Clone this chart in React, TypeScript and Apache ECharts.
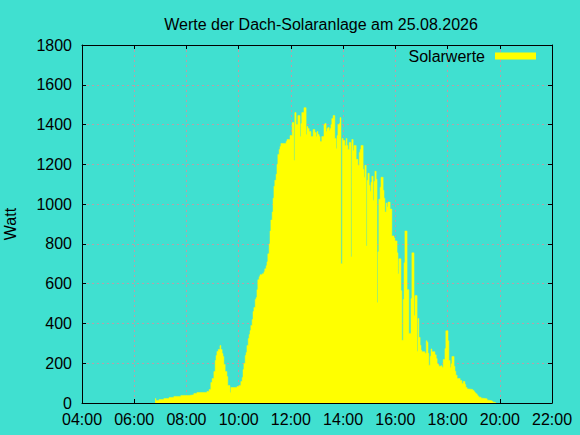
import React, { useEffect, useRef } from "react";
import * as echarts from "echarts";

const TITLE = "Werte der Dach-Solaranlage am 25.08.2026";
const SERIES_NAME = "Solarwerte";
const Y_NAME = "Watt";

const times: string[] = [
  "06:48","06:50","06:57","07:08","07:20","07:31","07:47","08:06","08:17","08:24",
  "08:47","08:52","08:56","08:59","09:03","09:06","09:08","09:10","09:13","09:17",
  "09:19","09:22","09:24","09:26","09:29","09:33","09:35","09:40","09:42","09:56",
  "10:01","10:05","10:08","10:10","10:12","10:15","10:17","10:19","10:22","10:24",
  "10:26","10:28","10:31","10:33","10:35","10:38","10:40","10:42","10:44","10:47",
  "10:49","10:54","10:58","11:00","11:03","11:05","11:07","11:10","11:12","11:14",
  "11:17","11:19","11:21","11:23","11:26","11:28","11:30","11:33","11:35","11:37",
  "11:49","11:51","11:58","12:03","12:07","12:09","12:12","12:16","12:21","12:23",
  "12:25","12:30","12:35","12:37","12:39","12:42","12:46","12:51","12:55","12:58",
  "13:00","13:02","13:05","13:07","13:11","13:16","13:18","13:21","13:23","13:25",
  "13:28","13:30","13:32","13:34","13:37","13:41","13:44","13:46","13:48","13:51",
  "13:53","13:55","13:58","14:00","14:04","14:07","14:09","14:11","14:14","14:18",
  "14:20","14:23","14:25","14:30","14:34","14:37","14:39","14:41","14:46","14:48",
  "14:50","14:53","14:55","14:57","15:00","15:02","15:04","15:06","15:09","15:11",
  "15:13","15:16","15:18","15:20","15:22","15:25","15:27","15:32","15:34","15:36",
  "15:39","15:41","15:43","15:48","15:52","15:57","15:59","16:04","16:06","16:08",
  "16:13","16:15","16:18","16:20","16:22","16:27","16:31","16:36","16:38","16:43",
  "16:45","16:50","16:52","16:54","16:57","16:59","17:01","17:08","17:11","17:13",
  "17:15","17:17","17:20","17:22","17:24","17:31","17:34","17:36","17:38","17:40",
  "17:43","17:47","17:50","17:54","17:56","18:01","18:03","18:06","18:08","18:10",
  "18:15","18:17","18:19","18:22","18:29","18:33","18:36","18:40","18:42","18:45",
  "18:47","18:58","19:01","19:03","19:05","19:08","19:10","19:12","19:17","19:21",
  "19:31","19:35","19:42","19:44","19:49","19:51",
];

const watts: number[] = [
  22,12,17,22,28,33,38,41,48,53,
  58,68,103,123,158,214,239,259,269,289,
  269,249,234,194,158,133,88,53,78,83,
  88,108,128,168,199,239,254,289,324,344,
  364,390,420,460,480,520,530,570,620,635,
  645,650,660,675,690,710,750,800,865,920,
  960,1030,1090,1120,1150,1200,1250,1275,1290,1305,
  1315,1325,1345,1410,1220,1460,1400,1445,1340,1405,
  1460,1485,1350,1390,1380,1365,1340,1375,1360,1340,
  1365,1350,1340,1315,1340,1400,1405,1365,1380,1385,
  1370,1380,1400,1430,1445,1330,1280,1345,1400,1405,
  1435,700,1330,1320,1295,1330,1295,1275,1310,735,
  1325,1270,1295,1225,1195,1260,1275,1295,1175,1135,
  1195,790,1120,1155,1095,1065,1110,1140,1020,1115,
  1165,1125,505,760,1025,1085,1135,1070,1030,960,
  1005,985,1010,975,840,830,815,755,650,725,
  565,315,520,705,865,570,350,525,755,440,
  540,260,425,330,290,265,258,250,313,305,
  250,190,235,272,258,242,224,197,193,185,
  188,180,219,274,363,313,214,180,197,234,
  185,160,140,123,113,98,108,93,78,71,
  68,63,56,51,46,39,34,29,24,21,
  14,11,8,4,1,0,
];

const X_MIN = "04:00";
const X_MAX = "22:00";
const X_STEP_HOURS = 2;
const Y_MIN = 0;
const Y_MAX = 1800;
const Y_STEP = 200;

const toMin = (s: string) => {
  const [h, m] = s.split(":").map(Number);
  return h * 60 + m;
};
const fmt = (v: number) => {
  const h = Math.floor(v / 60);
  const m = Math.round(v % 60);
  return `${String(h).padStart(2, "0")}:${String(m).padStart(2, "0")}`;
};

const FONT = "Liberation Sans, Arial, sans-serif";
const BG = "#40e0d0";
const GRID = "#b8a0a8";

export default function App() {
  const ref = useRef<HTMLDivElement>(null);
  useEffect(() => {
    if (!ref.current) return;
    const chart = echarts.init(ref.current, null, { renderer: "svg" });
    const data = times.map((t, i) => [toMin(t), watts[i]]);
    const xMin = toMin(X_MIN);
    const xMax = toMin(X_MAX);
    const xInt = X_STEP_HOURS * 60;
    const axisLine = { show: true, onZero: false, lineStyle: { color: "#000", width: 1 } };
    const tick = { show: true, inside: true, length: 4, lineStyle: { color: "#000", width: 1 } };
    const split = { show: true, lineStyle: { color: GRID, width: 1, type: [2, 3] as any } };
    chart.setOption({
      animation: false,
      backgroundColor: BG,
      textStyle: { fontFamily: FONT },
      title: {
        text: TITLE,
        left: 316,
        top: 11,
        textAlign: "center",
        textStyle: { fontFamily: FONT, fontSize: 16, fontWeight: "normal", color: "#000" },
      },
      legend: {
        data: [SERIES_NAME],
        right: 39,
        top: 43,
        align: "right",
        icon: "rect",
        itemWidth: 41,
        itemHeight: 7,
        textStyle: { fontFamily: FONT, fontSize: 16, color: "#000", padding: [0, 5, 0, 0] },
      },
      grid: {
        left: 82,
        top: 45,
        width: 470,
        height: 358,
        containLabel: false,
        outerBoundsMode: "none",
      },
      xAxis: [
        {
          type: "value",
          min: xMin,
          max: xMax,
          interval: xInt,
          axisLine,
          axisTick: tick,
          splitLine: split,
          axisLabel: {
            formatter: (v: number) => fmt(v),
            fontFamily: FONT,
            fontSize: 16,
            color: "#000",
            margin: 8,
            hideOverlap: false,
          },
        },
        {
          type: "value",
          position: "top",
          min: xMin,
          max: xMax,
          interval: xInt,
          axisLine,
          axisTick: tick,
          splitLine: { show: false },
          axisLabel: { show: false },
        },
      ],
      yAxis: [
        {
          type: "value",
          min: Y_MIN,
          max: Y_MAX,
          interval: Y_STEP,
          name: Y_NAME,
          nameLocation: "middle",
          nameRotate: 90,
          nameGap: 64,
          nameTextStyle: { fontFamily: FONT, fontSize: 16, color: "#000" },
          axisLine,
          axisTick: tick,
          splitLine: split,
          axisLabel: {
            formatter: (v: number) => String(v),
            fontFamily: FONT,
            fontSize: 16,
            color: "#000",
            margin: 10,
          },
        },
        {
          type: "value",
          position: "right",
          min: Y_MIN,
          max: Y_MAX,
          interval: Y_STEP,
          axisLine,
          axisTick: tick,
          splitLine: { show: false },
          axisLabel: { show: false },
        },
      ],
      series: [
        {
          name: SERIES_NAME,
          type: "line",
          step: "end",
          data,
          showSymbol: false,
          symbol: "none",
          itemStyle: { color: "#ffff00" },
          lineStyle: { color: "#ffff00", width: 0.5 },
          areaStyle: { color: "#ffff00", opacity: 1 },
          z: 1,
        },
      ],
    });
    return () => chart.dispose();
  }, []);
  return (
    <div
      ref={ref}
      style={{ position: "absolute", left: 0, top: 0, width: 580, height: 435 }}
    />
  );
}
